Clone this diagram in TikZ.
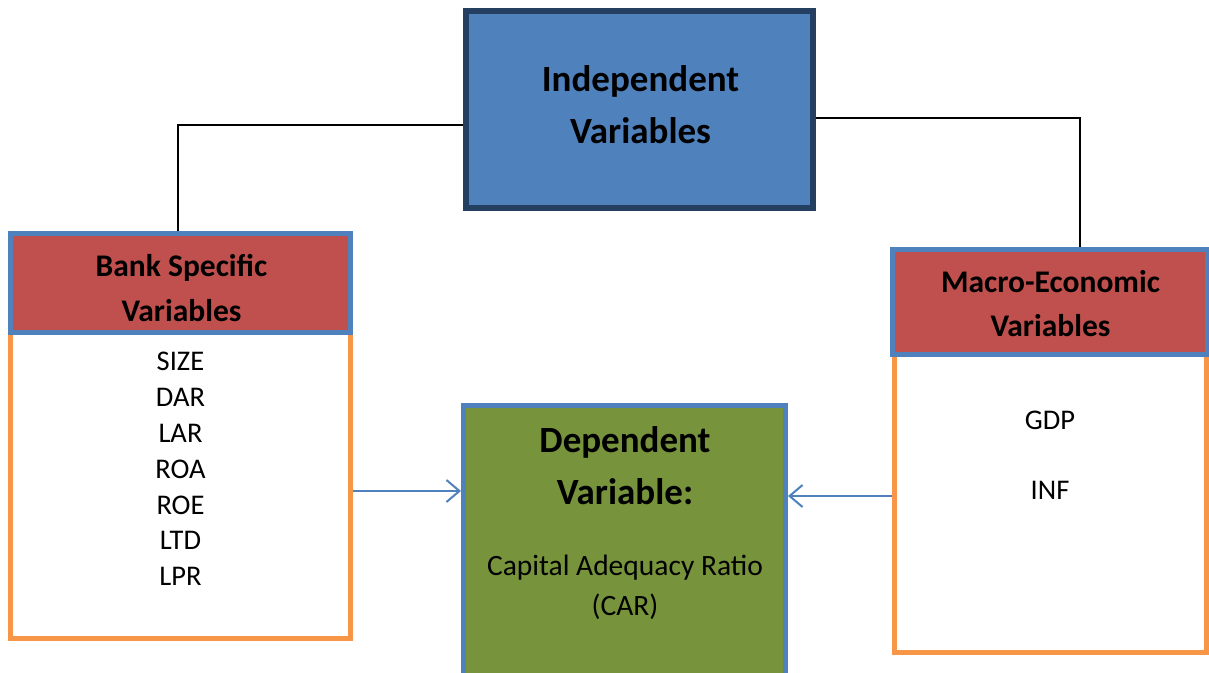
\documentclass[tikz,border=0pt]{standalone}
\usepackage{fontspec}
\setmainfont{Carlito}
\usetikzlibrary{arrows.meta}
\definecolor{indfill}{HTML}{4F81BD}
\definecolor{inddraw}{HTML}{243F60}
\definecolor{hfill}{HTML}{C0504D}
\definecolor{bdraw}{HTML}{4F81BD}
\definecolor{odraw}{HTML}{F79646}
\definecolor{gfill}{HTML}{77933C}
\tikzset{
  indbox/.style={draw=inddraw, fill=indfill, line width=6pt, inner sep=0pt},
  indtext/.style={align=center, inner sep=0pt, font=\fontsize{37}{52}\selectfont\bfseries},
  headbox/.style={draw=bdraw, fill=hfill, line width=5pt, inner sep=0pt},
  headtext/.style={align=center, inner sep=0pt, font=\fontsize{31.5}{44.5}\selectfont\bfseries},
  orangebox/.style={draw=odraw, fill=white, line width=5pt, inner sep=0pt},
  depbox/.style={draw=bdraw, fill=gfill, line width=5pt, inner sep=0pt},
  listtext/.style={align=center, inner sep=0pt, font=\fontsize{28.5}{35.8}\selectfont},
  deptitle/.style={align=center, inner sep=0pt, font=\fontsize{37}{52}\selectfont\bfseries},
  depsub/.style={align=center, inner sep=0pt, font=\fontsize{29.5}{40}\selectfont},
  conn/.style={draw=black, line width=2.7pt},
  arr/.style={draw=bdraw, line width=2pt, -{Straight Barb[length=13pt,width=22pt,line width=2pt]}}
}
\begin{document}
\begin{tikzpicture}[x=1pt,y=-1pt]
\useasboundingbox (0,0) rectangle (1209,672);
\clip (0,0) rectangle (1209,672);
\fill[white] (0,0) rectangle (1209,672);
% boxes
\node[orangebox, minimum width=340pt, minimum height=405pt] (bbox) at (180.5,435.5) {};
\node[headbox, minimum width=340pt, minimum height=99.5pt] (bank) at (180.5,282.75) {};
\node[headtext] (banktext) at (181.5,288) {Bank Specific\\Variables};
\node[listtext] (blist) at (180.5,469) {SIZE\\DAR\\LAR\\ROA\\ROE\\LTD\\LPR};
\node[orangebox, minimum width=312pt, minimum height=403.5pt] (mbox) at (1050,450.75) {};
\node[headbox, minimum width=314.5pt, minimum height=105pt] (macro) at (1049.75,301.5) {};
\node[headtext] (macrotext) at (1050.5,303.5) {Macro-Economic\\Variables};
\node[listtext] (gdp) at (1050,420) {GDP};
\node[listtext] (inf) at (1050,490) {INF};
\node[depbox, minimum width=322pt, minimum height=310pt] (dep) at (624.5,560.5) {};
\node[deptitle] (dtitle) at (625,466) {Dependent\\Variable:};
\node[depsub] (dsub) at (625,587) {Capital Adequacy Ratio\\(CAR)};
\node[indbox, minimum width=347pt, minimum height=197pt] (ind) at (639.5,109.5) {};
\node[indtext] (indtext) at (640.5,104.5) {Independent\\Variables};
% connectors
\draw[conn] ([yshift=-15.5pt]ind.west) -| ([xshift=-2.5pt]bank.north);
\draw[conn] ([yshift=-8.5pt]ind.east) -| ([xshift=30.25pt]macro.north);
\coordinate (la) at ([yshift=-55.5pt]bbox.east);
\coordinate (ra) at ([yshift=-45.25pt]mbox.west);
\draw[arr] (la) -- (la -| dep.west);
\draw[arr] (ra) -- (ra -| dep.east);
\end{tikzpicture}
\end{document}
